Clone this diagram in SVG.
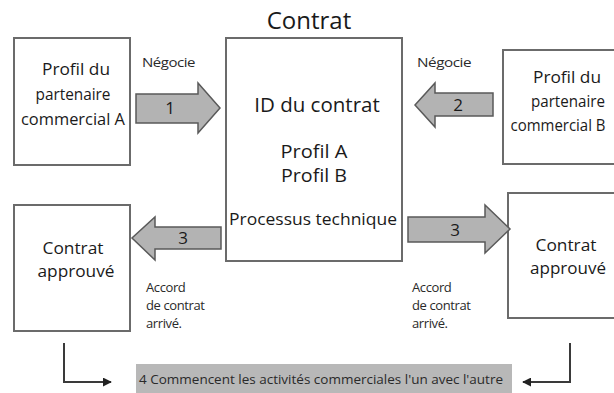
<svg xmlns="http://www.w3.org/2000/svg" width="614" height="393" viewBox="0 0 614 393">
<style>
.box{fill:#fff;stroke:#6b6b6b;stroke-width:2}
.arr{fill:#b3b3b3;stroke:#5a5a5a;stroke-width:1.5;stroke-linejoin:miter}
.t{font-family:"Open Sans","Liberation Sans",sans-serif;fill:#1a1a1a;text-anchor:middle}
.s{font-family:"Open Sans","Liberation Sans",sans-serif;fill:#2a2a2a;font-size:13px;letter-spacing:-0.4px}
.con{fill:none;stroke:#3a3a3a;stroke-width:2}
</style>
<defs>
<marker id="ah" viewBox="0 0 10 10" refX="9" refY="5" markerWidth="4.5" markerHeight="4.5" orient="auto-start-reverse" markerUnits="strokeWidth">
<path d="M0,0 L10,5 L0,10 z" fill="#222"/>
</marker>
</defs>
<rect width="614" height="393" fill="#fff"/>
<text class="t" x="309" y="29" font-size="24">Contrat</text>

<g id="partnerA">
<rect class="box" x="14" y="38" width="116" height="127"/>
<text class="t" x="76" y="75" font-size="16.5" textLength="68" lengthAdjust="spacingAndGlyphs">Profil du</text>
<text class="t" x="73" y="100" font-size="16.5" textLength="75" lengthAdjust="spacingAndGlyphs">partenaire</text>
<text class="t" x="73" y="125" font-size="16.5" textLength="104" lengthAdjust="spacingAndGlyphs">commercial A</text>
</g>

<g id="contract">
<rect class="box" x="226" y="38" width="176" height="223"/>
<text class="t" x="317" y="112" font-size="20.5">ID du contrat</text>
<text class="t" x="314" y="158" font-size="18" textLength="67" lengthAdjust="spacingAndGlyphs">Profil A</text>
<text class="t" x="314" y="182" font-size="18" textLength="66" lengthAdjust="spacingAndGlyphs">Profil B</text>
<text class="t" x="313" y="225" font-size="17" textLength="168" lengthAdjust="spacingAndGlyphs">Processus technique</text>
</g>

<g id="partnerB">
<rect class="box" x="503" y="50" width="120" height="114"/>
<text class="t" x="567" y="83" font-size="16.5" textLength="68" lengthAdjust="spacingAndGlyphs">Profil du</text>
<text class="t" x="568" y="107" font-size="16.5" textLength="74" lengthAdjust="spacingAndGlyphs">partenaire</text>
<text class="t" x="558" y="131" font-size="16.5" textLength="95" lengthAdjust="spacingAndGlyphs">commercial B</text>
</g>

<g id="approvedA">
<rect class="box" x="14" y="205" width="116" height="126"/>
<text class="t" x="73" y="254" font-size="16" textLength="61" lengthAdjust="spacingAndGlyphs">Contrat</text>
<text class="t" x="76" y="277" font-size="16" textLength="77" lengthAdjust="spacingAndGlyphs">approuvé</text>
</g>

<g id="approvedB">
<rect class="box" x="508" y="193" width="115" height="125"/>
<text class="t" x="566" y="251" font-size="16" textLength="61" lengthAdjust="spacingAndGlyphs">Contrat</text>
<text class="t" x="568" y="274" font-size="16" textLength="76" lengthAdjust="spacingAndGlyphs">approuvé</text>
</g>

<g id="activities">
<rect x="136" y="364" width="376" height="29" fill="#b8b8b8"/>
<text class="s" x="139" y="384" font-size="12" textLength="364" lengthAdjust="spacingAndGlyphs" style="letter-spacing:0">4  Commencent les activités commerciales l'un avec l'autre</text>
</g>

<g id="connectors">
<path class="arr" d="M136,94 L198,94 L198,83 L220,108 L198,133 L198,123 L136,123 Z"/>
<text class="t" x="170" y="114" font-size="17">1</text>
<path class="arr" d="M493,93 L435,93 L435,83 L415,105 L435,127 L435,116 L493,116 Z"/>
<text class="t" x="458" y="111" font-size="17">2</text>
<path class="arr" d="M221,227 L155,227 L155,217 L132,238 L155,260 L155,249 L221,249 Z"/>
<text class="t" x="183" y="244" font-size="17">3</text>
<path class="arr" d="M408,217 L485,217 L485,205 L510,229 L485,253 L485,242 L408,242 Z"/>
<text class="t" x="455" y="236" font-size="17">3</text>

<text class="s" x="142" y="67" textLength="53" lengthAdjust="spacingAndGlyphs">Négocie</text>
<text class="s" x="417" y="67" textLength="54" lengthAdjust="spacingAndGlyphs">Négocie</text>
<text class="s" x="146" y="292">Accord</text>
<text class="s" x="146" y="310">de contrat</text>
<text class="s" x="146" y="328">arrivé.</text>
<text class="s" x="412" y="292">Accord</text>
<text class="s" x="412" y="310">de contrat</text>
<text class="s" x="412" y="328">arrivé.</text>

<path class="con" d="M64,343 L64,382 L111,382" marker-end="url(#ah)"/>
<path class="con" d="M570,343 L570,382 L523,382" marker-end="url(#ah)"/>
</g>
</svg>
